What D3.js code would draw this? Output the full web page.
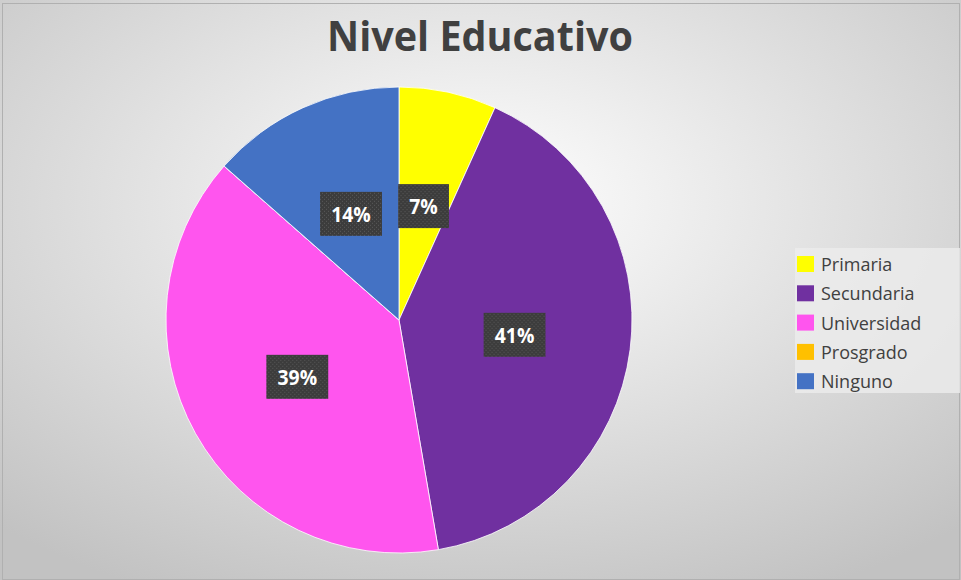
<!DOCTYPE html>
<html>
<head>
<meta charset="utf-8">
<script src="https://cdn.jsdelivr.net/npm/d3@7"></script>
<style>
  body { margin: 0; background: #fff; }
  svg { display: block; }
</style>
</head>
<body>
<svg id="chart" width="961" height="580"></svg>
<script>
// data
var categories = ["Primaria", "Secundaria", "Universidad", "Prosgrado", "Ninguno"];
var counts = [5, 30, 29, 0, 10];
var colors = ["#FFFF00", "#7030A0", "#FF55EE", "#FFC000", "#4472C4"];
var title = "Nivel Educativo";

var W = 961, H = 580;
var svg = d3.select("#chart");
var defs = svg.append("defs");

var grad = defs.append("radialGradient").attr("id", "bg")
    .attr("cx", "50%").attr("cy", "35%").attr("r", "75%");
grad.append("stop").attr("offset", "0%").attr("stop-color", "#ffffff");
grad.append("stop").attr("offset", "100%").attr("stop-color", "#c2c2c2");

// dotted fill for the data labels
var pat = defs.append("pattern").attr("id", "dots")
    .attr("width", 4).attr("height", 4).attr("patternUnits", "userSpaceOnUse");
pat.append("rect").attr("width", 4).attr("height", 4).attr("fill", "#3c3c3c");
pat.append("rect").attr("x", 1).attr("y", 1).attr("width", 1).attr("height", 1).attr("fill", "#595959");
pat.append("rect").attr("x", 3).attr("y", 3).attr("width", 1).attr("height", 1).attr("fill", "#595959");

svg.append("rect").attr("x", 0).attr("y", 0).attr("width", W).attr("height", H)
    .attr("fill", "url(#bg)");
svg.append("rect").attr("x", 2.5).attr("y", 3.5).attr("width", W - 4).attr("height", H - 4)
    .attr("fill", "none").attr("stroke", "#b0b0b0").attr("stroke-width", 1);

// title, squeezed sideways to look like the narrow original face
var tg = svg.append("g");
var tt = tg.append("text")
    .attr("x", 0).attr("y", 0)
    .attr("text-anchor", "middle")
    .attr("font-family", "'Open Sans', 'Noto Sans', sans-serif")
    .attr("font-weight", "bold")
    .attr("font-size", 42)
    .attr("fill", "#404040")
    .text(title);
var tw = tt.node().getBBox().width;
tg.attr("transform", "translate(480,51) scale(" + (306 / tw) + ",1)");

var cx = 399, cy = 320, R = 233;
var total = d3.sum(counts);

var pie = d3.pie().sort(null).value(function(d) { return d; });
var arcs = pie(counts);
var arc = d3.arc().innerRadius(0).outerRadius(R);
var labelArc = d3.arc().innerRadius(R * 0.5).outerRadius(R * 0.5);

var g = svg.append("g").attr("transform", "translate(" + cx + "," + cy + ")");

g.selectAll("path.slice")
    .data(arcs)
    .enter().append("path")
    .attr("class", "slice")
    .attr("d", arc)
    .attr("fill", function(d, i) { return colors[i]; })
    .attr("stroke", "#ffffff")
    .attr("stroke-width", 0.8);

var labels = g.selectAll("g.lbl")
    .data(arcs.filter(function(d) { return d.value > 0; }))
    .enter().append("g")
    .attr("class", "lbl")
    .attr("transform", function(d) {
        var c = labelArc.centroid(d);
        return "translate(" + c[0] + "," + c[1] + ")";
    });

labels.each(function(d) {
    var sel = d3.select(this);
    var txt = Math.round(d.value / total * 100) + "%";
    var t = sel.append("text")
        .attr("text-anchor", "middle")
        .attr("y", 8)
        .attr("font-family", "'Open Sans', 'Noto Sans', sans-serif")
        .attr("font-weight", "bold")
        .attr("font-size", 22)
        .attr("fill", "#ffffff")
        .attr("transform", "scale(0.88,1)")
        .text(txt);
    var bw = t.node().getBBox().width * 0.88;
    sel.insert("rect", "text")
        .attr("x", -bw / 2 - 11).attr("y", -22)
        .attr("width", bw + 22).attr("height", 44)
        .attr("fill", "url(#dots)");
});

// legend
var lg = svg.append("g").attr("transform", "translate(795,248)");
lg.append("rect").attr("width", 165).attr("height", 145)
    .attr("fill", "#ececec").attr("opacity", 0.8);

var rowH = 29.3;
var items = lg.selectAll("g.item")
    .data(categories)
    .enter().append("g")
    .attr("class", "item")
    .attr("transform", function(d, i) { return "translate(0," + (8 + i * rowH) + ")"; });

items.append("rect")
    .attr("x", 2).attr("y", 0)
    .attr("width", 17).attr("height", 16)
    .attr("fill", function(d, i) { return colors[i]; });

items.append("text")
    .attr("x", 26).attr("y", 15)
    .attr("font-family", "'Open Sans', 'Noto Sans', sans-serif")
    .attr("font-size", 18)
    .attr("fill", "#404040")
    .text(function(d) { return d; });
</script>
</body>
</html>
